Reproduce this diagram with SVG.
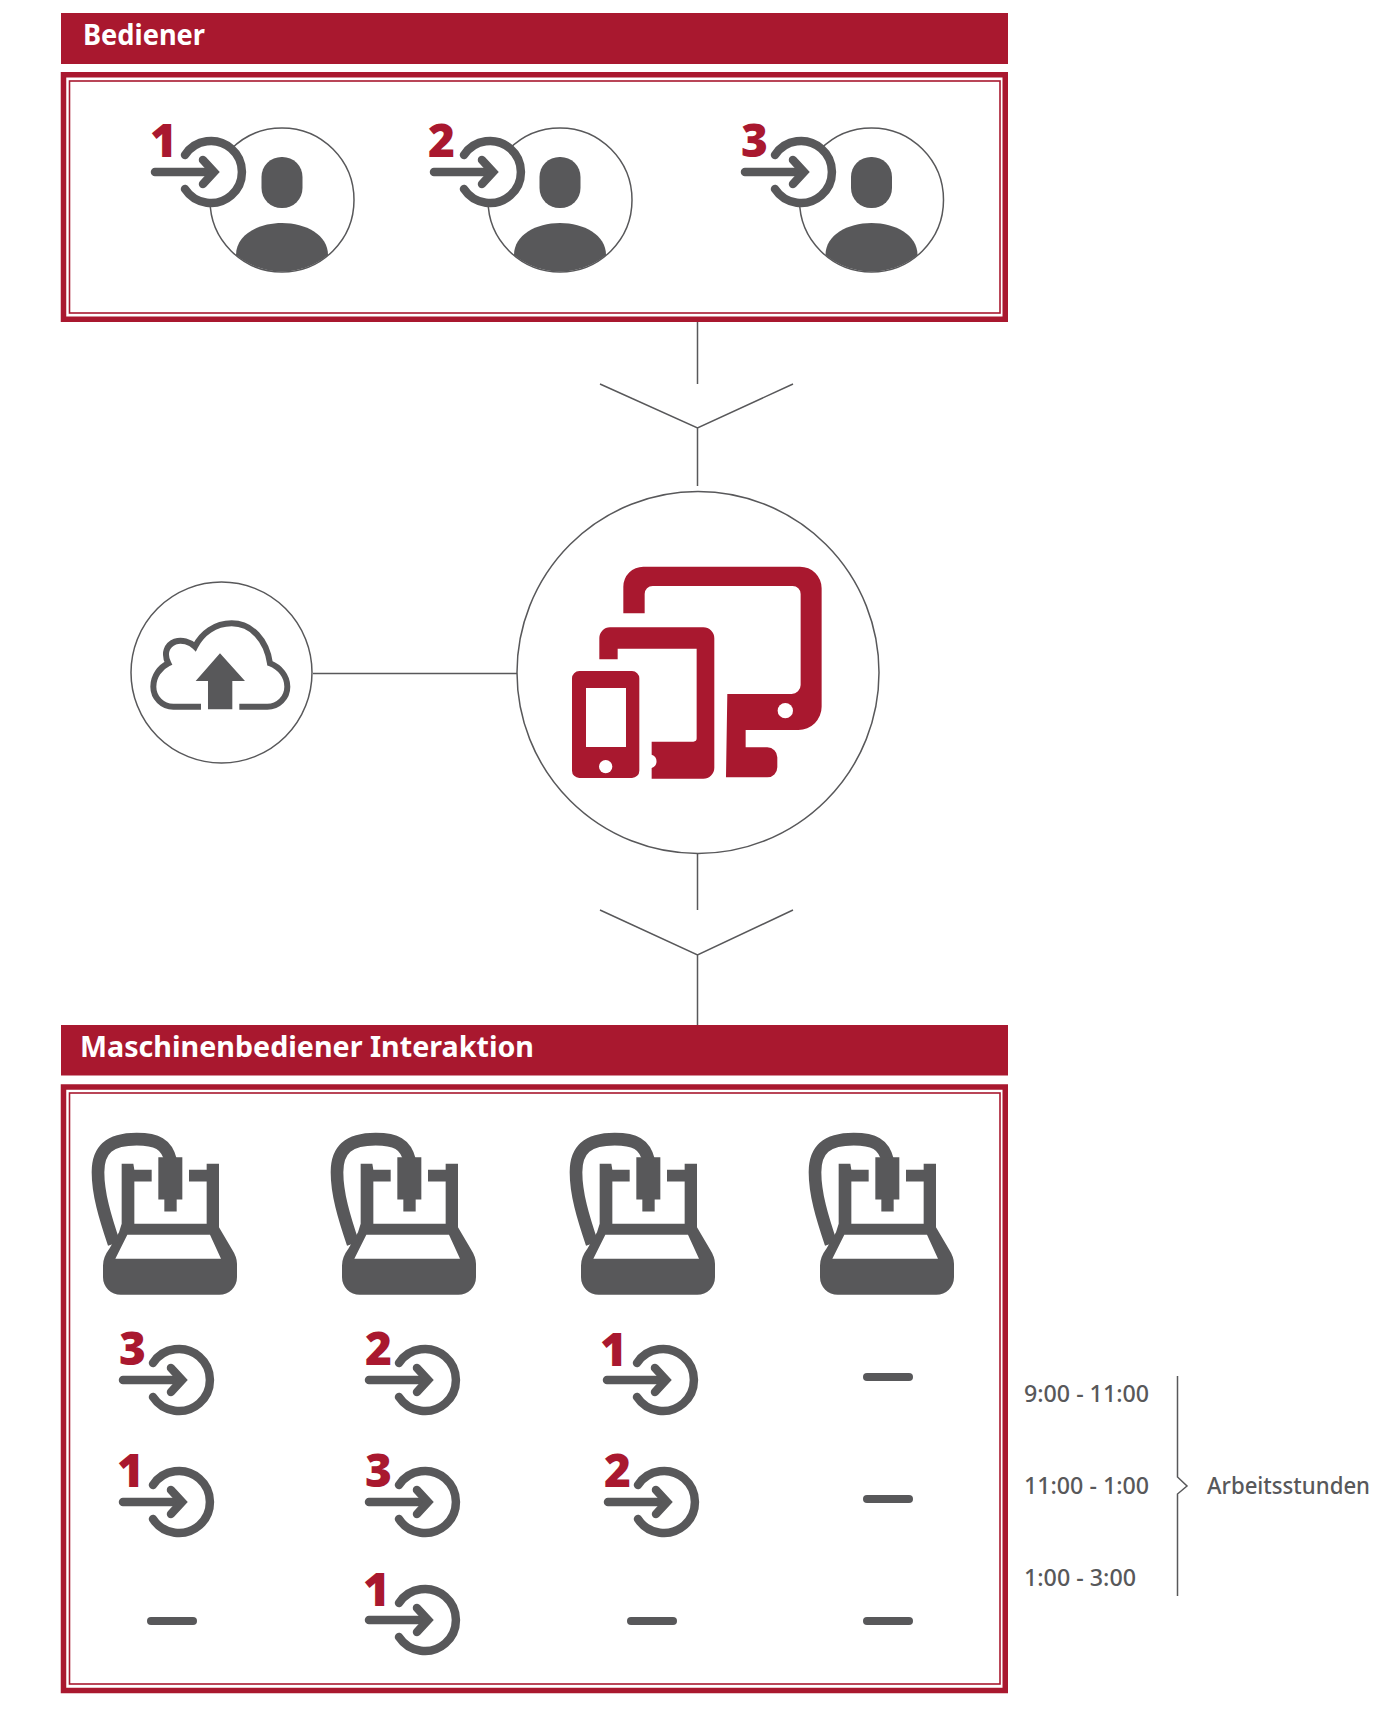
<svg xmlns="http://www.w3.org/2000/svg" xmlns:xlink="http://www.w3.org/1999/xlink" width="1400" height="1721" viewBox="0 0 1400 1721">
<style>
.hd{fill:#a9182f}
.fo{fill:none;stroke:#a9182f;stroke-width:5.5}
.fi{fill:none;stroke:#a9182f;stroke-width:1.6}
.ln{fill:none;stroke:#58585a;stroke-width:1.5}
.g{fill:#58585a}
.ic{fill:none;stroke:#58585a;stroke-width:8.5;stroke-linecap:round;stroke-linejoin:miter}
.ht{font-family:"Noto Sans","Open Sans",sans-serif;font-weight:700;font-size:29px;fill:#fff}
.dg{font-family:"Open Sans","Noto Sans",sans-serif;font-weight:800;font-size:46px;fill:#a9182f}
.tx{font-family:"Noto Sans","Open Sans",sans-serif;font-weight:500;font-size:23px;fill:#58585a}
.da{fill:none;stroke:#58585a;stroke-width:8;stroke-linecap:round}
</style>
<defs>
<g id="login"><path class="ic" d="M-56 0H2"/><path class="ic" d="M-8 -12L3 0L-8 12"/><path class="ic" d="M-26 -17A31 31 0 1 1 -26 17"/></g>
<g id="person"><circle r="72" fill="#fff" stroke="#58585a" stroke-width="1.5"/><rect x="-20.500" y="-43" width="41" height="51" rx="20" class="g"/><path class="g" d="M-46 55C-46 35 -24 23 0 23C24 23 46 35 46 55A72 72 0 0 1 -46 55Z"/></g>
<g id="machine" transform="translate(-360 0)">
<path class="g" fill-rule="evenodd" d="M159 555V590A53 53 0 0 0 212 643H508A53 53 0 0 0 561 590V550Q561 530 545 505L507 440V250H470V268H417V303H470V430H253V303H305V268H253L250 250H215V430L207 455L178 505Q159 530 159 555ZM232 463H480L513 535H196Z"/>
<path fill="none" stroke="#58585a" stroke-width="38" d="M362 240C350 190 320 176 260 176C180 176 144 205 144 275C144 340 165 410 192 490"/>
<path class="g" d="M325 230H397V357H380V393H343V357H325Z"/>
</g>
</defs>
<g id="connectors">
<path class="ln" d="M697.500 322V384M600 384L697.500 428L793 384M697.500 428V486"/>
<path class="ln" d="M313 673.500H517"/>
<path class="ln" d="M697.500 854V910M600 910L697.500 955L793 910M697.500 955V1025"/>
<path class="ln" d="M1177.500 1376V1477L1187 1486L1177.500 1494V1596"/>
</g>
<g id="header-bediener"><rect class="hd" x="61" y="13" width="947" height="51"/><text class="ht" x="83" y="45" textLength="122" lengthAdjust="spacingAndGlyphs">Bediener</text></g>
<g id="frame-bediener"><rect class="fo" x="63.500" y="74.750" width="941.750" height="244.500"/><rect class="fi" x="69.500" y="81" width="930.500" height="232"/></g>
<g id="operator-1"><use xlink:href="#person" href="#person" transform="translate(282 200)"/><circle cx="211" cy="172" r="31" fill="#fff"/><use href="#login" xlink:href="#login" transform="translate(211 172)"/><text class="dg" x="150" y="157">1</text></g>
<g id="operator-2"><use href="#person" xlink:href="#person" transform="translate(560 200)"/><circle cx="490" cy="172" r="31" fill="#fff"/><use href="#login" xlink:href="#login" transform="translate(490 172)"/><text class="dg" x="428" y="157">2</text></g>
<g id="operator-3"><use href="#person" xlink:href="#person" transform="translate(871.500 200)"/><circle cx="801" cy="172" r="31" fill="#fff"/><use href="#login" xlink:href="#login" transform="translate(801 172)"/><text class="dg" x="741" y="157">3</text></g>
<g id="devices"><circle cx="698" cy="672.500" r="181" fill="#fff" stroke="#58585a" stroke-width="1.5"/>
<g transform="translate(550 550) scale(.3333)" fill="#a9182f">
<path d="M220 190V110A60 60 0 0 1 280 50H750A65 65 0 0 1 815 115V470A70 70 0 0 1 745 540H587V592H652A30 30 0 0 1 682 622V652A30 30 0 0 1 652 682L528 682L532 432H725A27 27 0 0 0 752 405V132A24 24 0 0 0 728 108H308A24 24 0 0 0 284 132V190Z"/>
<circle cx="706" cy="482" r="23" fill="#fff"/>
<path d="M148 328V264A32 32 0 0 1 180 232H460A33 33 0 0 1 493 265V653A33 33 0 0 1 460 686H305V654A21 21 0 0 0 305 614V575H430Q440 575 440 565V296H203V328Z"/>
<path fill-rule="evenodd" d="M88 363H246A22 22 0 0 1 268 385V662A22 22 0 0 1 246 684H88A22 22 0 0 1 66 662V385A22 22 0 0 1 88 363ZM108 414V591H228V414Z"/>
<circle cx="167" cy="650" r="20" fill="#fff"/>
</g></g>
<g id="cloud"><circle cx="221.500" cy="672.500" r="90.500" fill="#fff" stroke="#58585a" stroke-width="1.500"/>
<g transform="translate(120 570) scale(.3333)">
<path fill="none" stroke="#58585a" stroke-width="18" d="M243 410H160A60 60 0 0 1 100 350C100 318 120 292 145 280C130 250 140 225 165 215C185 208 210 215 225 230C245 190 285 160 335 160C395 160 440 210 450 280C480 292 502 318 502 350A60 60 0 0 1 442 410H358"/>
<path class="g" d="M300 250L375 333H337V418H264V333H227Z"/>
</g></g>
<g id="header-maschine"><rect class="hd" x="61" y="1025" width="947" height="50.500"/><text class="ht" x="80" y="1057" textLength="454" lengthAdjust="spacingAndGlyphs">Maschinenbediener Interaktion</text></g>
<g id="frame-maschine"><rect class="fo" x="63.500" y="1087" width="941.750" height="603.500"/><rect class="fi" x="69.500" y="1093" width="930.500" height="591"/></g>
<g id="machine-1"><use href="#machine" xlink:href="#machine" transform="translate(170 1080.500) scale(.3333)"/></g>
<g id="machine-2"><use href="#machine" xlink:href="#machine" transform="translate(409 1080.500) scale(.3333)"/></g>
<g id="machine-3"><use href="#machine" xlink:href="#machine" transform="translate(648 1080.500) scale(.3333)"/></g>
<g id="machine-4"><use href="#machine" xlink:href="#machine" transform="translate(887 1080.500) scale(.3333)"/></g>
<g id="schedule">
<use href="#login" xlink:href="#login" transform="translate(179 1380)"/><text class="dg" x="119" y="1365">3</text>
<use href="#login" xlink:href="#login" transform="translate(425 1380)"/><text class="dg" x="365" y="1365">2</text>
<use href="#login" xlink:href="#login" transform="translate(663 1380)"/><text class="dg" x="600" y="1366">1</text>
<path class="da" d="M867 1377H909"/>
<use href="#login" xlink:href="#login" transform="translate(179 1502)"/><text class="dg" x="117" y="1487">1</text>
<use href="#login" xlink:href="#login" transform="translate(425 1502)"/><text class="dg" x="365" y="1487">3</text>
<use href="#login" xlink:href="#login" transform="translate(664 1502)"/><text class="dg" x="604" y="1487">2</text>
<path class="da" d="M867 1499H909"/>
<path class="da" d="M151 1621H193"/>
<use href="#login" xlink:href="#login" transform="translate(425 1620)"/><text class="dg" x="363" y="1606">1</text>
<path class="da" d="M631 1621H673"/>
<path class="da" d="M867 1621H909"/>
</g>
<g id="hours">
<text class="tx" x="1024" y="1402" textLength="125" lengthAdjust="spacingAndGlyphs">9:00 - 11:00</text>
<text class="tx" x="1024" y="1494" textLength="125" lengthAdjust="spacingAndGlyphs">11:00 - 1:00</text>
<text class="tx" x="1024" y="1586" textLength="112" lengthAdjust="spacingAndGlyphs">1:00 - 3:00</text>
<text class="tx" x="1207" y="1494" textLength="163" lengthAdjust="spacingAndGlyphs">Arbeitsstunden</text>
</g>
</svg>
